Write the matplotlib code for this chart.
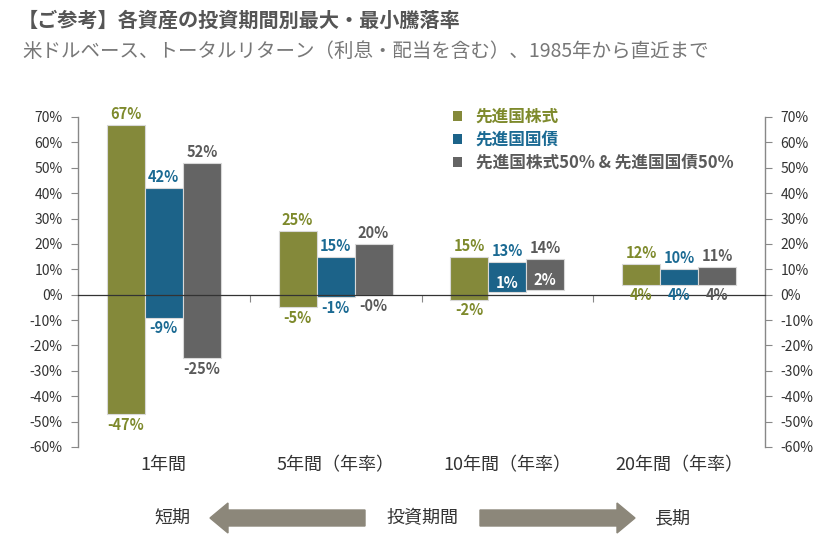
import numpy as np
import matplotlib.pyplot as plt
from matplotlib.patches import Patch, Polygon

plt.rcParams['font.family'] = ['Noto Sans CJK JP', 'DejaVu Sans']

categories = ["1年間", "5年間（年率）", "10年間（年率）", "20年間（年率）"]
series_names = ["先進国株式", "先進国国債", "先進国株式50% & 先進国国債50%"]
equity_max = [67, 25, 15, 12]
equity_min = [-47, -5, -2, 4]
bond_max = [42, 15, 13, 10]
bond_min = [-9, -1, 1, 4]
mix_max = [52, 20, 14, 11]
mix_min = [-25, -0.3, 2, 4]
# which min labels sit inside the bar (white text)
min_inside = [[False] * 4, [False, False, True, False], [False, False, True, False]]

colors = ["#84893a", "#1c6389", "#646464"]
text_colors = ["#7e8a2c", "#1b6a93", "#5a5a5a"]

fig = plt.figure(figsize=(8.4, 5.45), dpi=100)
ax = fig.add_axes([78 / 840, 1 - 447 / 545, 687 / 840, 330 / 545])

x = np.arange(len(categories))
w = 0.221
maxs = [equity_max, bond_max, mix_max]
mins = [equity_min, bond_min, mix_min]

for s in range(3):
    xs = x + (s - 1) * w
    hi = np.array(maxs[s], dtype=float)
    lo = np.array(mins[s], dtype=float)
    ax.bar(xs, hi - lo, bottom=lo, width=w, color=colors[s],
           edgecolor="#d8d8d8", linewidth=0.8, zorder=2)
    for i in range(len(categories)):
        ax.text(xs[i], hi[i] + 1.2, f"{hi[i]:.0f}%", ha="center", va="bottom",
                fontsize=10.5, fontweight="bold", color=text_colors[s])
        if min_inside[s][i]:
            ax.text(xs[i], lo[i] + 0.6, f"{lo[i]:.0f}%", ha="center", va="bottom",
                    fontsize=10.5, fontweight="bold", color="white", zorder=4)
        else:
            ax.text(xs[i], lo[i] - 1.0, f"{lo[i]:.0f}%", ha="center", va="top",
                    fontsize=10.5, fontweight="bold", color=text_colors[s], zorder=4)

ax.set_xlim(-0.5, 3.5)
ax.set_ylim(-60, 70)
ax.set_yticks(np.arange(-60, 71, 10))
ax.set_yticklabels([f"{v}%" for v in range(-60, 71, 10)])
ax.yaxis.set_ticks_position("both")
ax.tick_params(axis="y", direction="out", length=5, color="#888888",
               labelsize=10, labelcolor="#333333", labelright=True, pad=6)

ax.spines["top"].set_visible(False)
for side in ["left", "right"]:
    ax.spines[side].set_color("#888888")
    ax.spines[side].set_linewidth(1)
ax.spines["bottom"].set_position(("data", 0))
ax.spines["bottom"].set_color("#333333")
ax.spines["bottom"].set_linewidth(0.9)
ax.spines["bottom"].set_zorder(3)
ax.set_xticks([0.5, 1.5, 2.5])
ax.set_xticklabels([])
ax.tick_params(axis="x", direction="out", length=5, color="#888888")

for i, c in enumerate(categories):
    ax.text(x[i], -67, c, ha="center", va="center", fontsize=13, color="#333333")

handles = [Patch(facecolor=colors[s], edgecolor="none") for s in range(3)]
leg = ax.legend(handles, series_names, loc="upper left",
                bbox_to_anchor=(438 / 840, 1 - 93 / 545), bbox_transform=fig.transFigure,
                frameon=False, handlelength=0.55, handleheight=0.55, handletextpad=0.8,
                labelspacing=0.3, prop={"size": 12, "weight": "bold"},
                labelcolor=text_colors)

fig.text(18 / 840, 1 - 20 / 545, "【ご参考】各資産の投資期間別最大・最小騰落率",
         fontsize=14.5, fontweight="bold", color="#555555", va="center")
fig.text(22 / 840, 1 - 51 / 545, "米ドルベース、トータルリターン（利息・配当を含む）、1985年から直近まで",
         fontsize=14, color="#777777", va="center")

# bottom arrows (overlay in pixel coordinates)
ov = fig.add_axes([0, 0, 1, 1], zorder=-1)
ov.set_xlim(0, 840)
ov.set_ylim(545, 0)
ov.axis("off")
arrow_color = "#8c877a"
left_arrow = [(210, 518), (228, 503), (228, 510), (365, 510), (365, 526), (228, 526), (228, 533)]
right_arrow = [(635, 518), (617, 503), (617, 510), (480, 510), (480, 526), (617, 526), (617, 533)]
ov.add_patch(Polygon(left_arrow, closed=True, color=arrow_color))
ov.add_patch(Polygon(right_arrow, closed=True, color=arrow_color))
ov.text(172, 518, "短期", ha="center", va="center", fontsize=13, color="#333333")
ov.text(422, 518, "投資期間", ha="center", va="center", fontsize=13, color="#333333")
ov.text(672, 518, "長期", ha="center", va="center", fontsize=13, color="#333333")

fig.savefig("out.png", dpi=100)
